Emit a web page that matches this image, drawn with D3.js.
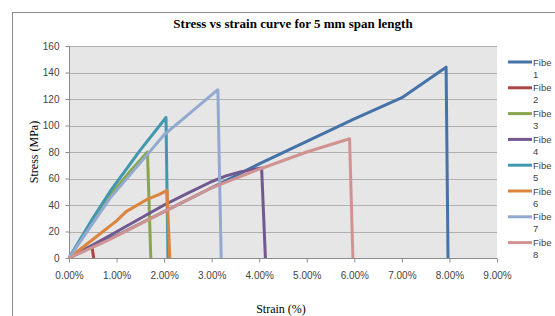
<!DOCTYPE html>
<html>
<head>
<meta charset="utf-8">
<script src="https://cdn.jsdelivr.net/npm/d3@7"></script>
<style>
	body { margin: 0; background: white; }
	svg { display: block; }
	.tick text { font-family: 'Liberation Sans', Arial, sans-serif; font-size: 10px; fill: #444; }
</style>
</head>
<body>
<div id="chart"></div>
<script>
const title = 'Stress vs strain curve for 5 mm span length';
const xTicks = [0, 1, 2, 3, 4, 5, 6, 7, 8, 9];
const yTicks = [0, 20, 40, 60, 80, 100, 120, 140, 160];
const fiberNames = ['Fiber 1', 'Fiber 2', 'Fiber 3', 'Fiber 4', 'Fiber 5', 'Fiber 6', 'Fiber 7', 'Fiber 8'];
const colors = ['#4572A7', '#AA4643', '#89A54E', '#71588F', '#4198AF', '#DB843D', '#93A9CF', '#D19392'];

// strain (%) / stress (MPa)
const strain1 = [0, 1, 2, 3, 4, 5, 6, 7, 7.93, 7.97];
const stress1 = [0, 17, 35, 53, 71, 88, 105, 121, 144, 0];
const strain2 = [0, 0.25, 0.48, 0.52];
const stress2 = [0, 5, 9, 0];
const strain3 = [0, 0.5, 0.86, 1.3, 1.65, 1.72];
const stress3 = [0, 28, 47, 66, 80, 0];
const strain4 = [0, 0.86, 2, 2.5, 2.96, 3.3, 3.6, 4.05, 4.13];
const stress4 = [0, 17, 40, 49, 57, 62, 65, 68, 0];
const strain5 = [0, 0.5, 0.86, 1.49, 2.04, 2.08];
const stress5 = [0, 30, 50, 81, 106, 0];
const strain6 = [0, 0.5, 1.0, 1.2, 1.63, 1.9, 2.06, 2.12];
const stress6 = [0, 14, 28, 35, 44, 48, 51, 0];
const strain7 = [0, 0.86, 1.74, 2.0, 2.5, 3.13, 3.2];
const stress7 = [0, 45, 82, 93, 108, 127, 0];
const strain8 = [0, 0.86, 2, 3, 4, 5, 5.9, 5.97];
const stress8 = [0, 14, 35, 53, 67, 80, 90, 0];

const strains = [strain1, strain2, strain3, strain4, strain5, strain6, strain7, strain8];
const stresses = [stress1, stress2, stress3, stress4, stress5, stress6, stress7, stress8];

const width = 555;
const height = 316;
const plot = { left: 69, right: 497, top: 46, bottom: 258 };

const svg = d3
	.select('#chart')
	.append('svg')
	.attr('width', width)
	.attr('height', height);

// outer chart frame
svg.append('rect')
	.attr('x', 12.5)
	.attr('y', 12.5)
	.attr('width', width + 10)
	.attr('height', height + 10)
	.attr('fill', 'white')
	.attr('stroke', '#8c8c8c');

const x = d3.scaleLinear().domain([0, 9]).range([plot.left, plot.right]);
const y = d3.scaleLinear().domain([0, 160]).range([plot.bottom, plot.top]);

svg.append('rect')
	.attr('x', plot.left)
	.attr('y', plot.top)
	.attr('width', plot.right - plot.left)
	.attr('height', plot.bottom - plot.top)
	.attr('fill', '#e6e6e6');

// gridlines
svg.append('g')
	.selectAll('line')
	.data(yTicks.slice(1))
	.enter()
	.append('line')
	.attr('x1', plot.left)
	.attr('x2', plot.right)
	.attr('y1', (d) => Math.round(y(d)) + 0.5)
	.attr('y2', (d) => Math.round(y(d)) + 0.5)
	.attr('stroke', '#b0b0b0');

const yAxis = svg
	.append('g')
	.attr('transform', `translate(${plot.left + 0.5},0)`)
	.call(d3.axisLeft(y).tickValues(yTicks).tickSize(4).tickPadding(6));
yAxis.selectAll('line, path').attr('stroke', '#8c8c8c');
yAxis.select('.domain').attr('d', `M0,${plot.top}V${plot.bottom}`);

const xAxis = svg
	.append('g')
	.attr('transform', `translate(0,${plot.bottom + 0.5})`)
	.call(
		d3
			.axisBottom(x)
			.tickValues(xTicks)
			.tickSize(4)
			.tickPadding(9)
			.tickFormat((d) => d.toFixed(2) + '%')
	);
xAxis.selectAll('line, path').attr('stroke', '#8c8c8c');
xAxis.select('.domain').attr('d', `M${plot.left},0H${plot.right}`);

// series
const line = d3
	.line()
	.x((d) => x(d[0]))
	.y((d) => y(d[1]));

svg.append('g')
	.selectAll('path')
	.data(fiberNames.map((name, i) => strains[i].map((s, j) => [s, stresses[i][j]])))
	.enter()
	.append('path')
	.attr('d', line)
	.attr('fill', 'none')
	.attr('stroke', (d, i) => colors[i])
	.attr('stroke-width', 3)
	.attr('stroke-linejoin', 'round');

// titles
svg.append('text')
	.attr('x', 293)
	.attr('y', 28)
	.attr('text-anchor', 'middle')
	.style('font-family', "'Liberation Serif', 'Times New Roman', serif")
	.style('font-weight', 'bold')
	.style('font-size', '13px')
	.text(title);

svg.append('text')
	.attr('transform', `translate(38,${(plot.top + plot.bottom) / 2}) rotate(-90)`)
	.attr('text-anchor', 'middle')
	.style('font-family', "'Liberation Serif', 'Times New Roman', serif")
	.style('font-size', '12px')
	.text('Stress (MPa)');

svg.append('text')
	.attr('x', 281)
	.attr('y', 313)
	.attr('text-anchor', 'middle')
	.style('font-family', "'Liberation Serif', 'Times New Roman', serif")
	.style('font-size', '12px')
	.text('Strain (%)');

// legend, the names are wrapped and cut by the narrow legend box
const legend = svg
	.append('g')
	.selectAll('g')
	.data(fiberNames)
	.enter()
	.append('g')
	.attr('transform', (d, i) => `translate(508,${62 + i * 25.8})`);

legend.append('line')
	.attr('x1', 0)
	.attr('x2', 24)
	.attr('stroke', (d, i) => colors[i])
	.attr('stroke-width', 3);

legend.append('text')
	.attr('x', 25)
	.attr('y', 3.5)
	.style('font-family', "'Liberation Sans', Arial, sans-serif")
	.style('font-size', '9.5px')
	.style('fill', '#444')
	.text((d) => d.split(' ')[0].slice(0, 4));

legend.append('text')
	.attr('x', 25)
	.attr('y', 15.5)
	.style('font-family', "'Liberation Sans', Arial, sans-serif")
	.style('font-size', '9.5px')
	.style('fill', '#444')
	.text((d) => d.split(' ')[1]);
</script>
</body>
</html>
